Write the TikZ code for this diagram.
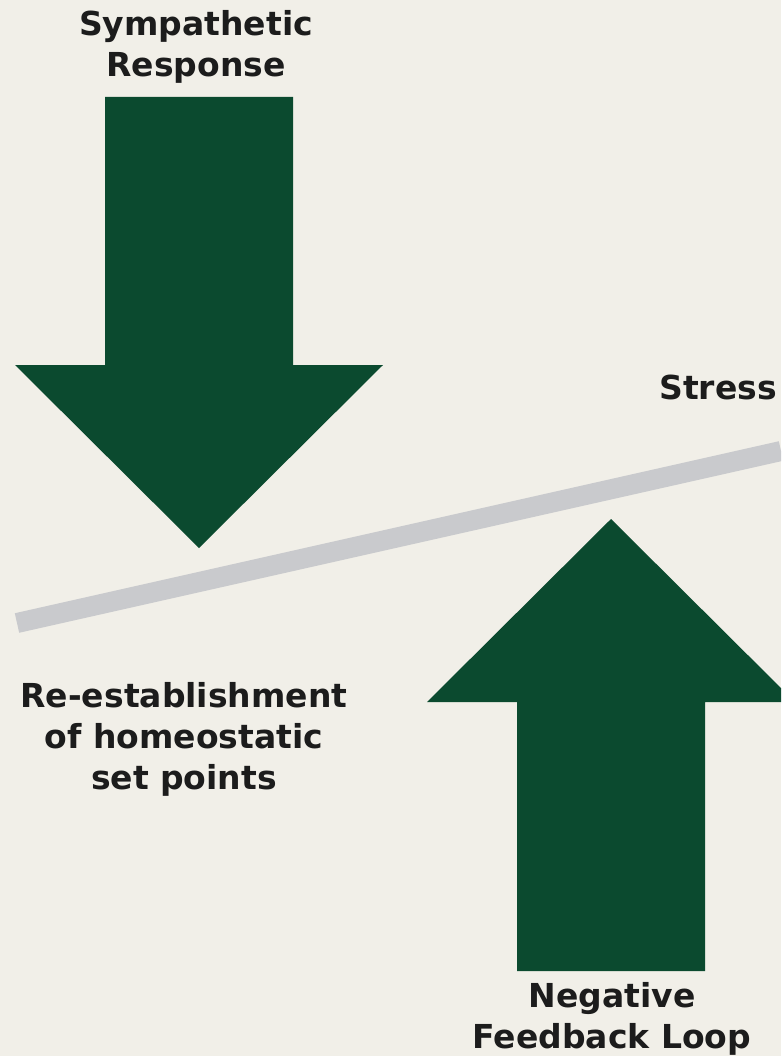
\documentclass[tikz,border=0pt]{standalone}
\usepackage{fontspec}
\setmainfont{DejaVu Sans}
\usepackage{tikz}
\usepackage{xcolor}
\definecolor{paper}{RGB}{241,239,232}
\definecolor{arrowgreen}{RGB}{11,74,47}
\definecolor{beamgray}{RGB}{201,202,205}
\definecolor{ink}{RGB}{28,28,28}
\tikzset{
    label text/.style={font=\bfseries\fontsize{33}{41}\selectfont, text=ink, inner sep=0pt, align=center},
    block arrow/.style={fill=arrowgreen}
}

\begin{document}
\begin{tikzpicture}[x=1pt,y=-1pt]
        \fill[paper] (0,0) rectangle (781,1056);
        \clip (0,0) rectangle (781,1056);
        \draw[beamgray, line width=20pt] (17,623) -- (781,451);
        \foreach \cx/\s/\b/\t in {199/97/365/548, 611/971/702/519} {
            \fill[block arrow] (\cx-94,\s) -- (\cx-94,\b) -- (\cx-184,\b) -- (\cx,\t)
                -- (\cx+184,\b) -- (\cx+94,\b) -- (\cx+94,\s) -- cycle;
        }
        \node[label text, anchor=base] (sympathetic) at (196,77) {Sympathetic\\Response};
        \node[label text, anchor=base east] (stress) at (777,399) {Stress};
        \node[label text, anchor=base] (reestablish) at (184,789) {Re-establishment\\of homeostatic\\set points};
        \node[label text, anchor=base] (negfeedback) at (612,1048) {Negative\\Feedback Loop};
    \end{tikzpicture}
\end{document}
